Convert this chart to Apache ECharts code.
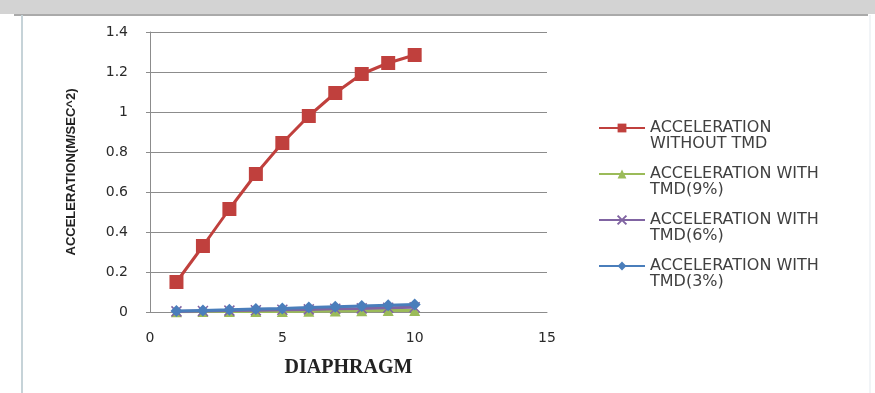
<!DOCTYPE html>
<html>
<head>
<meta charset="utf-8">
<script src="https://cdn.jsdelivr.net/npm/echarts@6/dist/echarts.min.js"></script>
<style>
    html, body { margin: 0; padding: 0; background: #ffffff; }
    #chart { width: 875px; height: 393px; }
</style>
</head>
<body>
<div id="chart"></div>
<script>
// diaphragm numbers on the x axis
const diaphragm = [1, 2, 3, 4, 5, 6, 7, 8, 9, 10];
// acceleration values
const accWithoutTmd = [0.15, 0.33, 0.515, 0.69, 0.845, 0.98, 1.095, 1.19, 1.245, 1.285];
const accTmd9 = [0.001, 0.002, 0.002, 0.003, 0.003, 0.004, 0.005, 0.006, 0.007, 0.008];
const accTmd6 = [0.003, 0.005, 0.007, 0.009, 0.011, 0.013, 0.016, 0.018, 0.021, 0.024];
const accTmd3 = [0.005, 0.008, 0.011, 0.015, 0.018, 0.022, 0.026, 0.030, 0.034, 0.038];
const seriesNames = ['ACCELERATION\nWITHOUT TMD', 'ACCELERATION WITH\nTMD(9%)', 'ACCELERATION WITH\nTMD(6%)', 'ACCELERATION WITH\nTMD(3%)'];

const chart = echarts.init(document.getElementById('chart'));

function pairs(vals) {
    return diaphragm.map((d, i) => [d, vals[i]]);
}

const option = {
    animation: false,
    graphic: [
        { type: 'rect', shape: { x: 0, y: 0, width: 875, height: 14 }, style: { fill: '#d3d3d3' }, z: -1 },
        { type: 'line', shape: { x1: 14, y1: 15, x2: 868, y2: 15 }, style: { stroke: '#aaaaaa', lineWidth: 2 } },
        { type: 'line', shape: { x1: 22, y1: 15, x2: 22, y2: 393 }, style: { stroke: '#c6d3d8', lineWidth: 2 } },
        { type: 'line', shape: { x1: 870, y1: 15, x2: 870, y2: 393 }, style: { stroke: '#e3e9ee', lineWidth: 1 } }
    ],
    grid: { left: 150, right: 328, top: 32, bottom: 81 },
    xAxis: {
        type: 'value',
        min: 0, max: 15, interval: 5,
        name: 'DIAPHRAGM',
        nameLocation: 'middle',
        nameGap: 46,
        nameTextStyle: { fontFamily: 'Liberation Serif', fontWeight: 'bold', fontSize: 20, color: '#222' },
        axisLine: { show: true, lineStyle: { color: '#8c8c8c', width: 1 } },
        axisTick: { show: false },
        splitLine: { show: false },
        axisLabel: { margin: 19, fontFamily: 'DejaVu Sans', fontSize: 14, color: '#2a2a2a' }
    },
    yAxis: {
        type: 'value',
        min: 0, max: 1.4, interval: 0.2,
        name: 'ACCELERATION(M/SEC^2)',
        nameLocation: 'middle',
        nameGap: 72,
        nameRotate: 90,
        nameTextStyle: { fontFamily: 'Liberation Sans', fontWeight: 'bold', fontSize: 13, color: '#222' },
        axisLine: { show: true, lineStyle: { color: '#8c8c8c', width: 1 } },
        axisTick: { show: true, length: 4, lineStyle: { color: '#8c8c8c' } },
        splitLine: { show: true, lineStyle: { color: '#8c8c8c', width: 1 } },
        axisLabel: {
            margin: 22, fontFamily: 'DejaVu Sans', fontSize: 14, color: '#2a2a2a',
            formatter: v => String(Math.round(v * 10) / 10)
        }
    },
    legend: {
        orient: 'vertical',
        left: 593,
        top: 99,
        itemWidth: 46,
        itemHeight: 11,
        itemGap: -2,
        data: seriesNames,
        // leading blank line keeps the icon level with the first text line
        formatter: name => '\n' + name,
        textStyle: { fontFamily: 'DejaVu Sans', fontSize: 16, color: '#404040', lineHeight: 16 }
    },
    series: [
        {
            name: seriesNames[0], type: 'line', data: pairs(accWithoutTmd),
            symbol: 'rect', symbolSize: 14, z: 4,
            lineStyle: { color: '#c0403d', width: 3 }, itemStyle: { color: '#c0403d' }
        },
        {
            name: seriesNames[1], type: 'line', data: pairs(accTmd9),
            symbol: 'triangle', symbolSize: 11, z: 3,
            lineStyle: { color: '#9bbb59', width: 3 }, itemStyle: { color: '#9bbb59' }
        },
        {
            name: seriesNames[2], type: 'line', data: pairs(accTmd6),
            symbol: 'path://M0,0 L10,10 M10,0 L0,10', symbolSize: 10, z: 3,
            lineStyle: { color: '#8064a2', width: 3 },
            itemStyle: { color: 'none', borderColor: '#8064a2', borderWidth: 1.5 }
        },
        {
            name: seriesNames[3], type: 'line', data: pairs(accTmd3),
            symbol: 'diamond', symbolSize: 12, z: 5,
            lineStyle: { color: '#4a7ebb', width: 3 }, itemStyle: { color: '#4a7ebb' }
        }
    ]
};

chart.setOption(option);
</script>
</body>
</html>
